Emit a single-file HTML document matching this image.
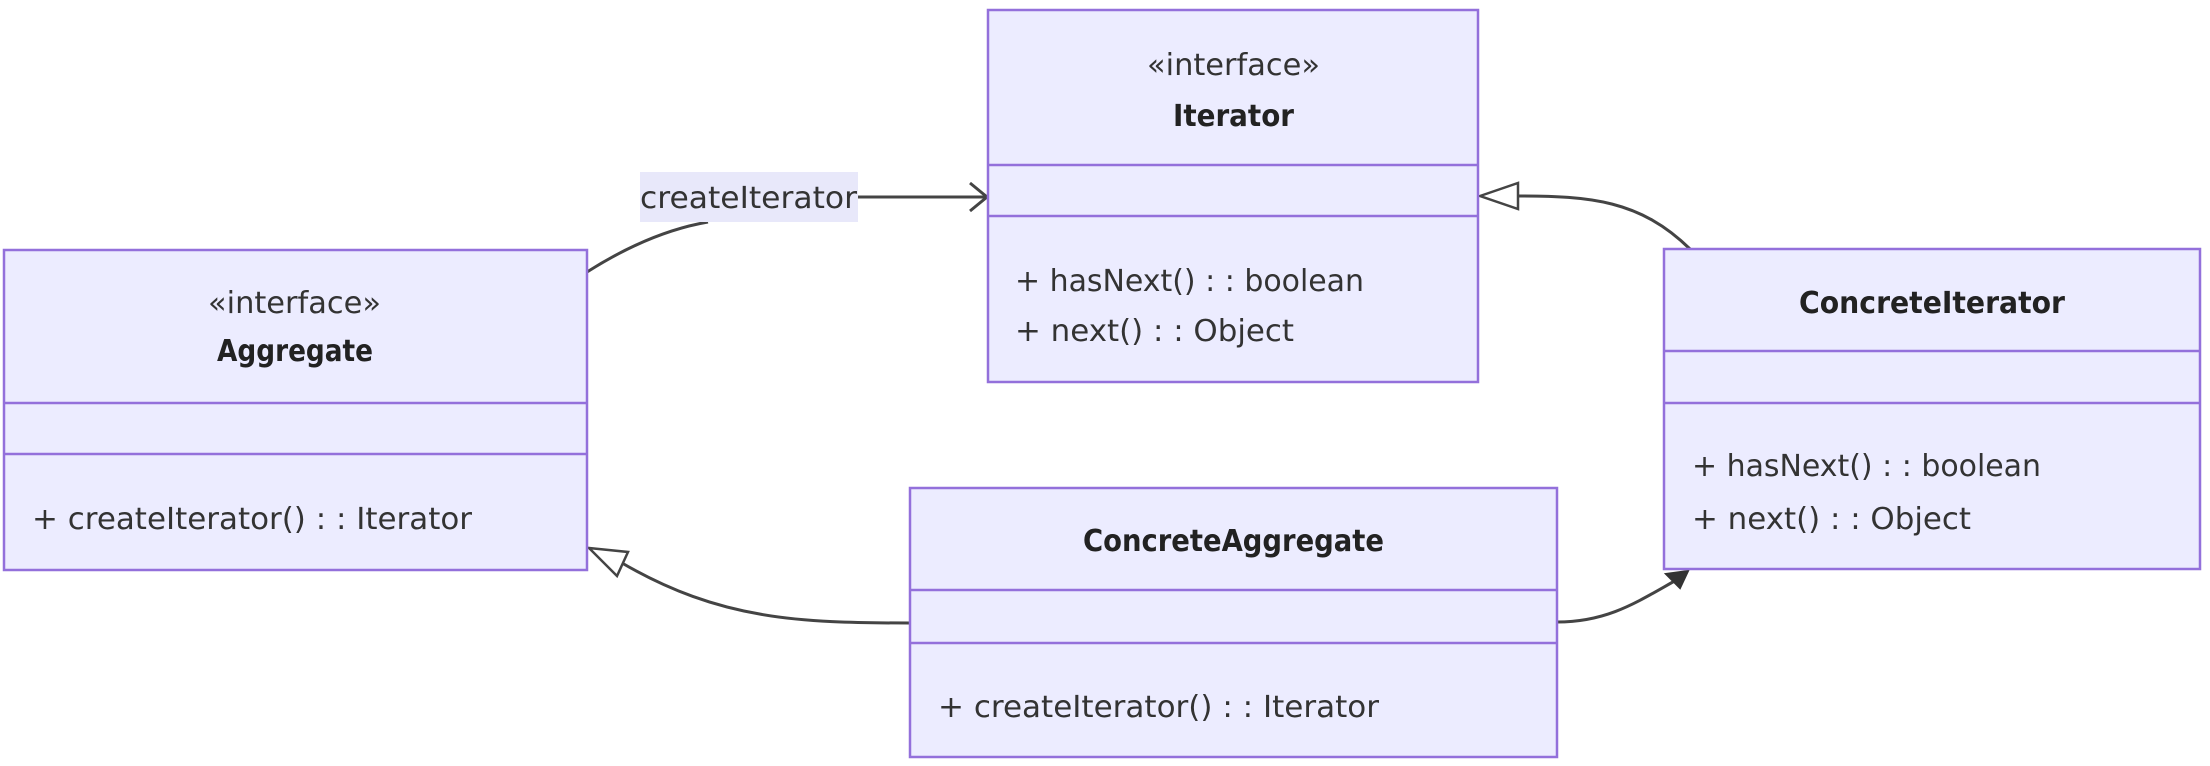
<!DOCTYPE html>
<html><head><meta charset="utf-8"><style>
html,body{margin:0;padding:0;background:#fff;}
svg{display:block;}
text{font-family:"DejaVu Sans","Liberation Sans",sans-serif;font-size:30px;fill:#333;}
.b{font-weight:bold;fill:#222;}
.box{fill:#ECECFF;stroke:#9370DB;stroke-width:2.5;}
.ln{stroke:#9370DB;stroke-width:2.5;}
.e{fill:none;stroke:#444;stroke-width:3;}
</style></head><body>
<svg width="2210" height="766" viewBox="0 0 2210 766" xmlns="http://www.w3.org/2000/svg">
<!-- Edges -->
<path class="e" d="M587,272 Q650,232 708,222"/>
<rect x="640" y="172" width="218" height="50" fill="#e8e8fa"/>
<text x="640" y="208" textLength="217" lengthAdjust="spacingAndGlyphs">createIterator</text>
<path class="e" d="M858,197 L986,197"/>
<path class="e" d="M970,183 L987,197 L970,211" stroke-width="4"/>

<path class="e" d="M1690,249 C1640,200 1590,196 1518,196"/>
<polygon points="1480,196 1518,183 1518,209" fill="#fff" stroke="#444" stroke-width="2.5"/>

<path class="e" d="M910,623 C800,623 720,620 622,563"/>
<polygon points="589,548 628,552 617,576" fill="#fff" stroke="#444" stroke-width="2.5"/>

<path class="e" d="M1557,622 C1610,622 1640,600 1680,578"/>
<polygon points="1688,571 1666,574 1680,588" fill="#333" stroke="#333" stroke-width="2"/>

<!-- Iterator -->
<rect class="box" x="988" y="10" width="490" height="372"/>
<line class="ln" x1="988" y1="165" x2="1478" y2="165"/>
<line class="ln" x1="988" y1="216" x2="1478" y2="216"/>
<text x="1147" y="75" textLength="173" lengthAdjust="spacingAndGlyphs">«interface»</text>
<text class="b" x="1173" y="126" textLength="121" lengthAdjust="spacingAndGlyphs">Iterator</text>
<text x="1015" y="291" textLength="349" lengthAdjust="spacingAndGlyphs">+ hasNext() : : boolean</text>
<text x="1015" y="341" textLength="279" lengthAdjust="spacingAndGlyphs">+ next() : : Object</text>

<!-- Aggregate -->
<rect class="box" x="4" y="250" width="583" height="320"/>
<line class="ln" x1="4" y1="403" x2="587" y2="403"/>
<line class="ln" x1="4" y1="454" x2="587" y2="454"/>
<text x="208" y="313" textLength="173" lengthAdjust="spacingAndGlyphs">«interface»</text>
<text class="b" x="217" y="361" textLength="156" lengthAdjust="spacingAndGlyphs">Aggregate</text>
<text x="32" y="529" textLength="440" lengthAdjust="spacingAndGlyphs">+ createIterator() : : Iterator</text>

<!-- ConcreteIterator -->
<rect class="box" x="1664" y="249" width="536" height="320"/>
<line class="ln" x1="1664" y1="351" x2="2200" y2="351"/>
<line class="ln" x1="1664" y1="403" x2="2200" y2="403"/>
<text class="b" x="1799" y="313" textLength="266" lengthAdjust="spacingAndGlyphs">ConcreteIterator</text>
<text x="1692" y="476" textLength="349" lengthAdjust="spacingAndGlyphs">+ hasNext() : : boolean</text>
<text x="1692" y="529" textLength="279" lengthAdjust="spacingAndGlyphs">+ next() : : Object</text>

<!-- ConcreteAggregate -->
<rect class="box" x="910" y="488" width="647" height="269"/>
<line class="ln" x1="910" y1="590" x2="1557" y2="590"/>
<line class="ln" x1="910" y1="643" x2="1557" y2="643"/>
<text class="b" x="1083" y="551" textLength="301" lengthAdjust="spacingAndGlyphs">ConcreteAggregate</text>
<text x="938" y="717" textLength="441" lengthAdjust="spacingAndGlyphs">+ createIterator() : : Iterator</text>
</svg>
</body></html>
